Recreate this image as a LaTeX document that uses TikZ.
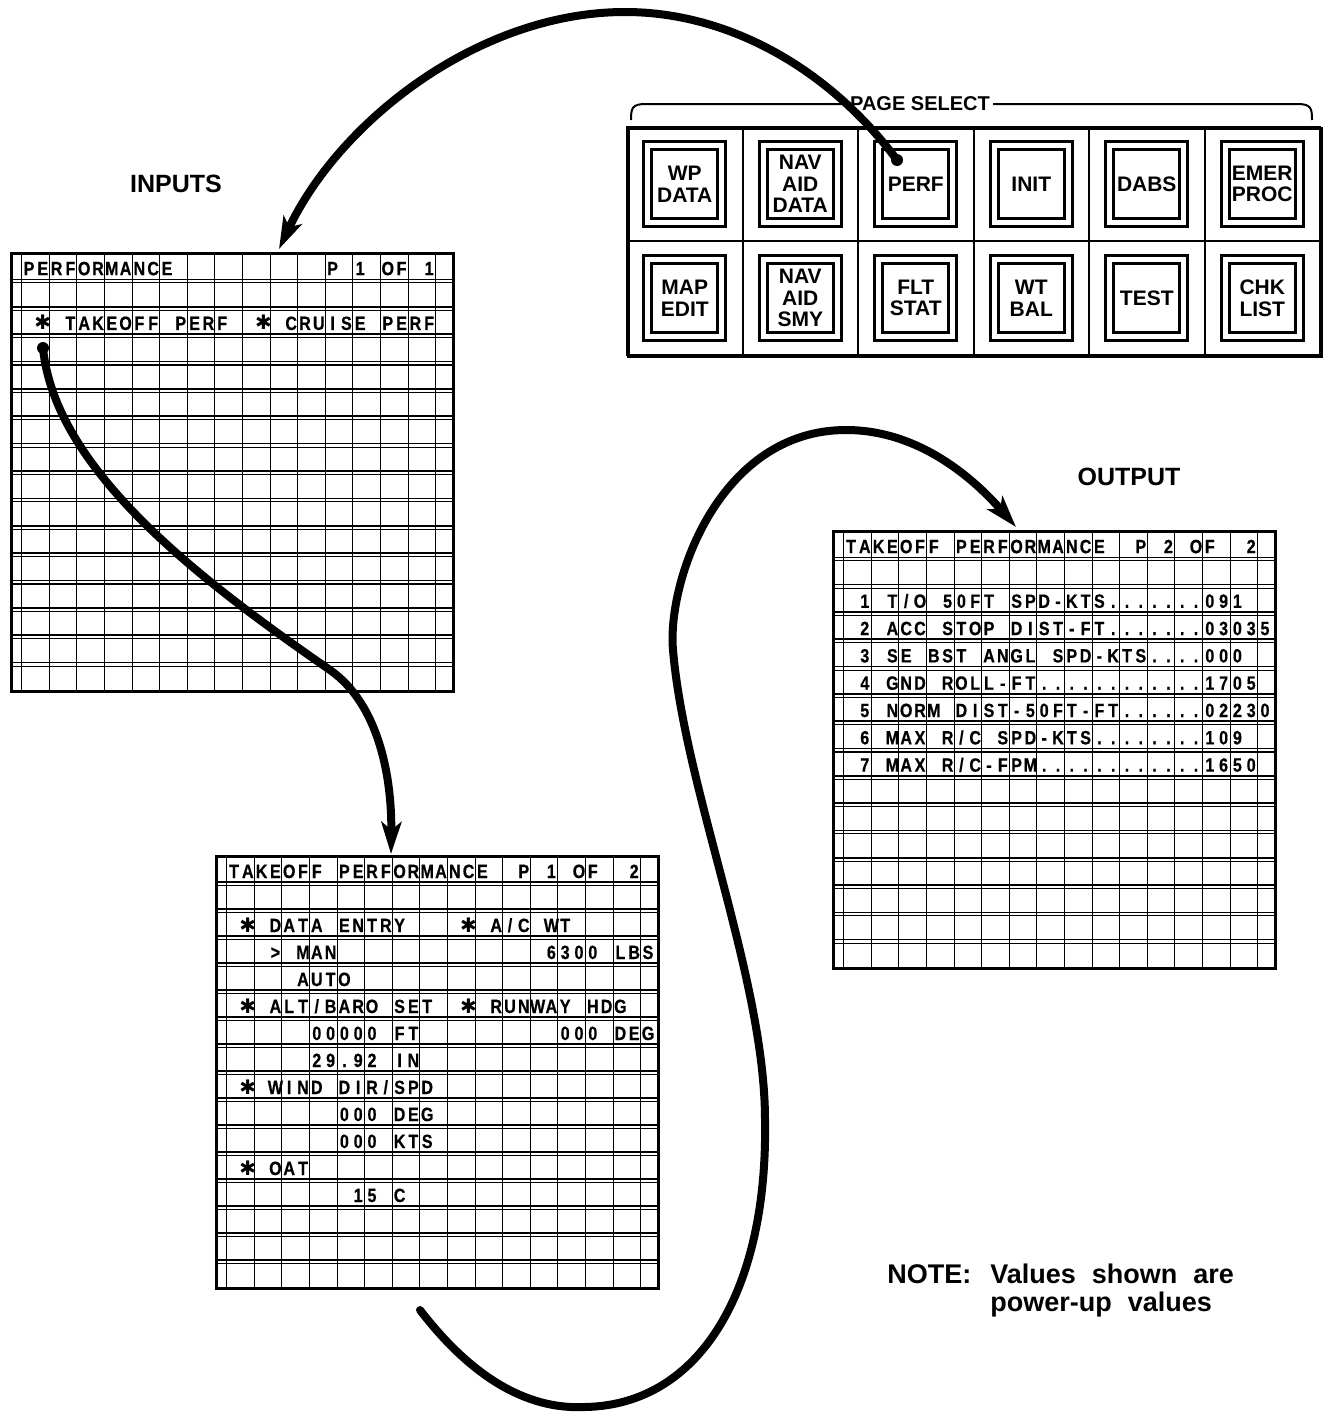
\documentclass[tikz,border=0pt]{standalone}
\usepackage{graphicx}
\usepackage{fontspec}
\setmainfont{Liberation Sans}
\newfontfamily\stfont{DejaVu Sans}
\newfontfamily\gridfamily{Liberation Sans}[BoldFeatures={FakeBold=0.6}]
\usetikzlibrary{arrows.meta}
\newlength\gcell \setlength\gcell{6.9pt}
\newcommand\gfont{\gridfamily\fontsize{9.6pt}{10pt}\selectfont\bfseries}
\newcommand\notesp{\spaceskip=8pt\relax}
\ExplSyntaxOn
\NewDocumentCommand\GT{m}{
  \group_begin: \gfont
  \str_map_inline:nn {#1} {
    \str_case:nnF {##1}
      { {*} {\makebox[\gcell]{\stfont\bfseries\fontsize{10pt}{10pt}\selectfont ✱}}
        {_} {\makebox[\gcell]{}} }
      {\makebox[\gcell]{\scalebox{0.84}[1]{##1}}}
  }
  \group_end:
}
\ExplSyntaxOff
\newcommand\drawgrid[3]{%
  \foreach \k in {0,...,15} \draw[vline] ({#1+11.7+27.6*\k},#2) -- ({#1+11.7+27.6*\k},{#2+#3});
  \foreach \i in {1,...,15} {
    \draw[hline] (#1,{#2+#3*\i/16}) -- ({#1+442},{#2+#3*\i/16});
    \draw[hlinetwo] (#1,{#2+#3*\i/16+3.5}) -- ({#1+442},{#2+#3*\i/16+3.5});
  }}
\newcommand\gtxt[6]{\node[gtext] (#1) at ({#2+11.7},{#3+#4*(#5+0.5)/16+9.5}) {\GT{#6}};}
\begin{document}
\begin{tikzpicture}[x=0.5pt,y=-0.5pt,
  vline/.style={line width=0.45pt},
  hline/.style={line width=0.8pt},
  hlinetwo/.style={line width=0.55pt},
  gframe/.style={draw,line width=1.3pt,anchor=north west,inner sep=0,minimum width=221pt},
  gtext/.style={anchor=base west,inner sep=0},
  pcell/.style={draw,line width=1pt,minimum width=57.75pt,minimum height=57pt,inner sep=0},
  btn/.style={draw,line width=1.4pt,double,double distance=2.6pt,minimum width=37pt,minimum height=38.5pt,inner sep=0,align=center,font=\fontsize{10.5pt}{10.8pt}\selectfont\bfseries},
  thickcurve/.style={line width=4pt,line cap=round},
  bigarrow/.style={-{Stealth[length=16pt,width=10pt,inset=4pt]}},
  lbl/.style={font=\fontsize{12.5pt}{14pt}\selectfont\bfseries,inner sep=0},
  notefont/.style={font=\fontsize{13.5pt}{14pt}\selectfont\bfseries,inner sep=0,anchor=base west},
  blackdot/.style={circle,fill,inner sep=0,minimum size=6pt}]
\useasboundingbox (0,0) rectangle (1325,1414);

% ---------- PAGE SELECT panel ----------
\node[font=\fontsize{10pt}{12pt}\selectfont\bfseries,inner sep=1.5pt] (ps) at (920,104) {PAGE SELECT};
\draw[line width=1pt] (ps.west) -- (646,104) .. controls (632,104) and (631,108) .. (631,120);
\draw[line width=1pt] (ps.east) -- (1297,104) .. controls (1311,104) and (1312,108) .. (1312,120);

\node[pcell] (c11) at (684.75,184) {};
\node[pcell] (c12) at (800.25,184) {};
\node[pcell] (c13) at (915.75,184) {};
\node[pcell] (c14) at (1031.25,184) {};
\node[pcell] (c15) at (1146.75,184) {};
\node[pcell] (c16) at (1262.25,184) {};
\node[pcell] (c21) at (684.75,298) {};
\node[pcell] (c22) at (800.25,298) {};
\node[pcell] (c23) at (915.75,298) {};
\node[pcell] (c24) at (1031.25,298) {};
\node[pcell] (c25) at (1146.75,298) {};
\node[pcell] (c26) at (1262.25,298) {};
\node[draw,line width=1.5pt,minimum width=346.5pt,minimum height=114pt,inner sep=0,anchor=north west] (panel) at (627,127) {};

\node[btn] (bwp) at (c11) {WP\\DATA};
\node[btn] (bnad) at (c12) {NAV\\AID\\DATA};
\node[btn] (bperf) at (c13) {PERF};
\node[btn] (binit) at (c14) {INIT};
\node[btn] (bdabs) at (c15) {DABS};
\node[btn] (bemer) at (c16) {EMER\\PROC};
\node[btn] (bmap) at (c21) {MAP\\EDIT};
\node[btn] (bnas) at (c22) {NAV\\AID\\SMY};
\node[btn] (bflt) at (c23) {FLT\\STAT};
\node[btn] (bwt) at (c24) {WT\\BAL};
\node[btn] (btest) at (c25) {TEST};
\node[btn] (bchk) at (c26) {CHK\\LIST};

% ---------- labels ----------
\node[lbl] (inputs) at (176,184) {INPUTS};
\node[lbl] (output) at (1129,477) {OUTPUT};
\node[notefont] (note) at (887,1283) {NOTE:};
\node[notefont] (note1) at (990,1283) {\notesp Values shown are};
\node[notefont] (note2) at (990,1311) {\notesp power-up values};

% ---------- grid 1 (inputs) ----------
\drawgrid{10}{252}{438}
\node[gframe,minimum height=219pt] (g1) at (10,252) {};
\gtxt{g1r0}{10}{252}{438}{0}{PERFORMANCE___________P_1_OF_1}
\gtxt{g1r2}{10}{252}{438}{2}{_*_TAKEOFF_PERF__*_CRUISE_PERF}

% ---------- grid 2 ----------
\drawgrid{215}{855}{432}
\node[gframe,minimum height=216pt] (g2) at (215,855) {};
\gtxt{g2r0}{215}{855}{432}{0}{TAKEOFF_PERFORMANCE__P_1_OF__2}
\gtxt{g2r2}{215}{855}{432}{2}{_*_DATA_ENTRY____*_A/C_WT}
\gtxt{g2r3}{215}{855}{432}{3}{___>_MAN_______________6300_LBS}
\gtxt{g2r4}{215}{855}{432}{4}{_____AUTO}
\gtxt{g2r5}{215}{855}{432}{5}{_*_ALT/BARO_SET__*_RUNWAY_HDG}
\gtxt{g2r6}{215}{855}{432}{6}{______00000_FT__________000_DEG}
\gtxt{g2r7}{215}{855}{432}{7}{______29.92_IN}
\gtxt{g2r8}{215}{855}{432}{8}{_*_WIND_DIR/SPD}
\gtxt{g2r9}{215}{855}{432}{9}{________000_DEG}
\gtxt{g2r10}{215}{855}{432}{10}{________000_KTS}
\gtxt{g2r11}{215}{855}{432}{11}{_*_OAT}
\gtxt{g2r12}{215}{855}{432}{12}{_________15_C}

% ---------- grid 3 (output) ----------
\drawgrid{832}{530}{437}
\node[gframe,minimum height=218.5pt] (g3) at (832,530) {};
\gtxt{g3r0}{832}{530}{437}{0}{TAKEOFF_PERFORMANCE__P_2_OF__2}
\gtxt{g3r2}{832}{530}{437}{2}{_1_T/O_50FT_SPD-KTS.......091}
\gtxt{g3r3}{832}{530}{437}{3}{_2_ACC_STOP_DIST-FT.......03035}
\gtxt{g3r4}{832}{530}{437}{4}{_3_SE_BST_ANGL_SPD-KTS....000}
\gtxt{g3r5}{832}{530}{437}{5}{_4_GND_ROLL-FT............1705}
\gtxt{g3r6}{832}{530}{437}{6}{_5_NORM_DIST-50FT-FT......02230}
\gtxt{g3r7}{832}{530}{437}{7}{_6_MAX_R/C_SPD-KTS........109}
\gtxt{g3r8}{832}{530}{437}{8}{_7_MAX_R/C-FPM............1650}

% ---------- connectors ----------
\node[blackdot] (pdot) at (897,160) {};
\coordinate (aend) at (279,249);
\draw[thickcurve,bigarrow] (pdot.center) .. controls (830,70) and (730,12) .. (625,12)
   .. controls (480,12) and (340,120) .. (aend);

\node[blackdot] (tdot) at (43,348) {};
\coordinate (bend) at (391,854);
\draw[thickcurve,bigarrow] (tdot.center) .. controls (55,470) and (200,580) .. (330,670)
   .. controls (380,705) and (392,780) .. (bend);

\coordinate (cstart) at (420,1310);
\coordinate (cend) at (1016,527);
\draw[thickcurve,bigarrow] (cstart) .. controls (470,1375) and (525,1410) .. (585,1407)
   .. controls (700,1405) and (768,1290) .. (765,1120)
   .. controls (765,980) and (685,790) .. (673,650)
   .. controls (667,580) and (720,430) .. (846,430)
   .. controls (920,430) and (975,480) .. (cend);
\end{tikzpicture}
\end{document}
